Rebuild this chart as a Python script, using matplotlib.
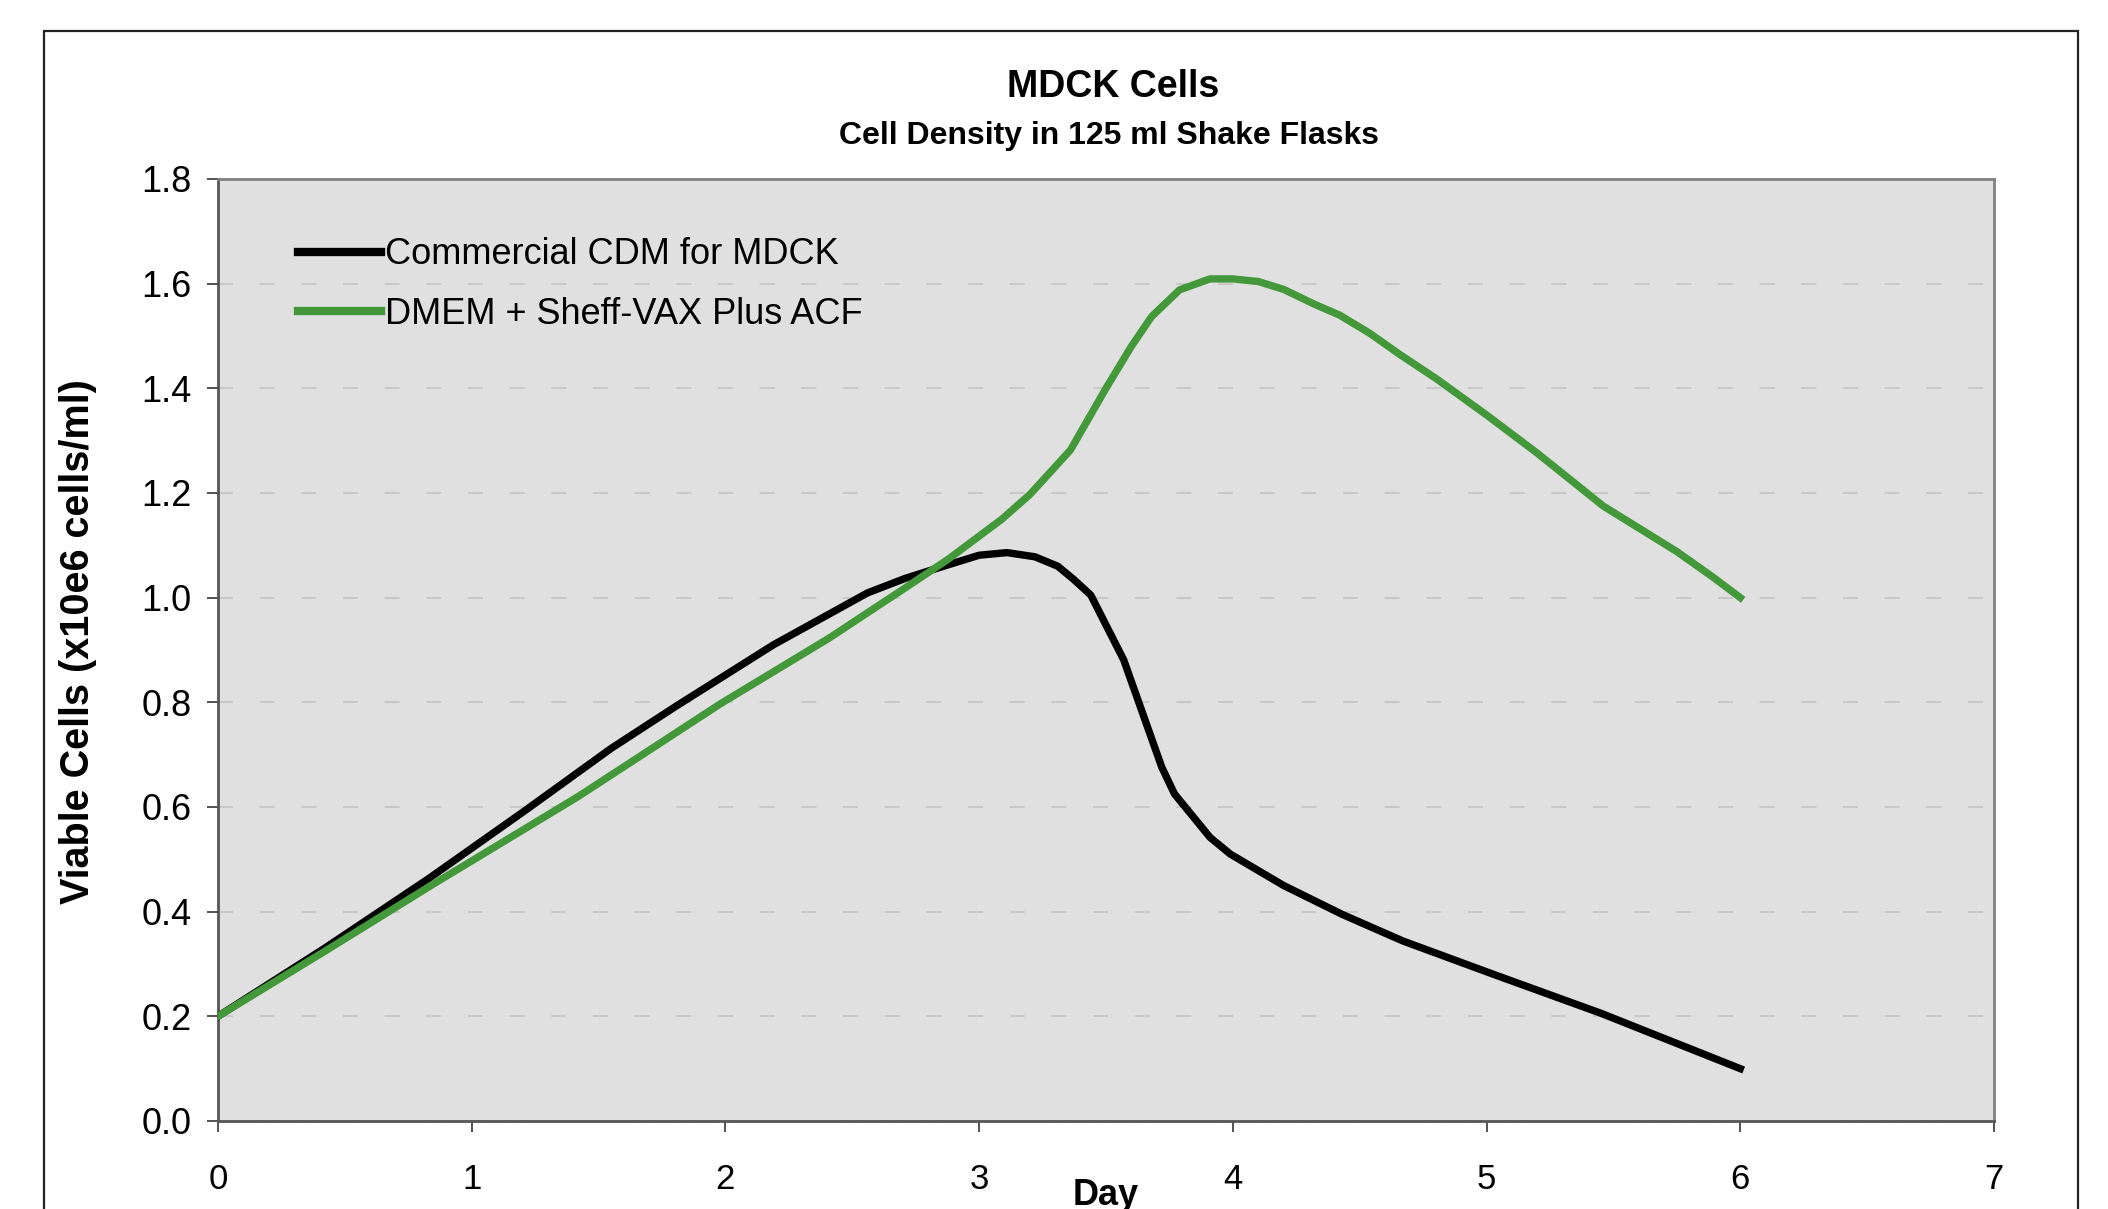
import matplotlib
matplotlib.use("Agg")
import matplotlib.pyplot as plt
from matplotlib.patches import Rectangle

plt.rcParams['font.family'] = ['Liberation Sans', 'DejaVu Sans']

# Commercial CDM for MDCK (black)
cdm_day = [0, 0.42, 0.83, 1.21, 1.55, 1.81, 2.19, 2.56, 2.71, 2.86, 3.0, 3.11,
           3.22, 3.31, 3.37, 3.44, 3.57, 3.72, 3.77, 3.91, 3.99, 4.2, 4.43,
           4.67, 5.04, 5.45, 6.0]
cdm_cells = [0.2, 0.33, 0.463, 0.593, 0.712, 0.794, 0.91, 1.009, 1.037, 1.06,
             1.081, 1.086, 1.078, 1.06, 1.036, 1.005, 0.881, 0.676, 0.625,
             0.542, 0.51, 0.45, 0.395, 0.344, 0.278, 0.206, 0.1]

# DMEM + Sheff-VAX Plus ACF (green)
vax_day = [0, 0.42, 0.85, 1.42, 1.98, 2.41, 2.71, 2.88, 3.09, 3.2, 3.36, 3.5,
           3.6, 3.68, 3.79, 3.91, 4.0, 4.1, 4.2, 4.32, 4.42, 4.54, 4.66, 4.8,
           4.9, 5.0, 5.2, 5.46, 5.75, 5.89, 6.0]
vax_cells = [0.2, 0.324, 0.453, 0.62, 0.797, 0.923, 1.019, 1.074, 1.15, 1.197,
             1.282, 1.40, 1.48, 1.537, 1.588, 1.609, 1.609, 1.604, 1.589,
             1.561, 1.54, 1.505, 1.464, 1.419, 1.384, 1.349, 1.276, 1.175,
             1.088, 1.04, 1.0]

labels = ["Commercial CDM for MDCK", "DMEM + Sheff-VAX Plus ACF"]
x_ticks = [0, 1, 2, 3, 4, 5, 6, 7]
y_ticks = [0.0, 0.2, 0.4, 0.6, 0.8, 1.0, 1.2, 1.4, 1.6, 1.8]

fig = plt.figure(figsize=(21.08, 12.09), dpi=100)
fig.patch.set_facecolor("white")

# chart area border (bottom runs off the image)
fig.patches.append(Rectangle((0.0209, -0.05), 0.9649, 1.0244, transform=fig.transFigure,
                             fill=False, edgecolor="#222222", linewidth=1.6))

ax = fig.add_axes([0.1034, 0.0728, 0.8425, 0.7792])
ax.set_facecolor("#E0E0E0")

ax.plot(cdm_day, cdm_cells, color="black", linewidth=5.3, label=labels[0],
        solid_joinstyle="round", zorder=3)
ax.plot(vax_day, vax_cells, color="#43993A", linewidth=5.3, label=labels[1],
        solid_joinstyle="round", zorder=3)

ax.set_xlim(0, 7)
ax.set_ylim(0, 1.8)
ax.set_xticks(x_ticks)
ax.set_yticks(y_ticks)
ax.set_yticklabels([f"{v:.1f}" for v in y_ticks])
ax.grid(axis="y", color="#C4C4C4", linewidth=1.2, linestyle=(0, (9, 16)))
ax.set_axisbelow(True)

for s in ax.spines.values():
    s.set_color("#808080")
    s.set_linewidth(2)
ax.spines["left"].set_color("#555555")
ax.spines["bottom"].set_color("#555555")

ax.tick_params(axis="y", direction="out", length=8, width=1.2, color="#333333",
               labelsize=26, pad=11)
ax.tick_params(axis="x", direction="out", length=8, width=1.2, color="#333333",
               labelsize=25, pad=22)

ax.set_ylabel("Viable Cells (x10e6 cells/ml)", fontsize=28.5, fontweight="bold")
ax.yaxis.set_label_coords(-0.068, 0.5085)
ax.set_xlabel("Day", fontsize=26, fontweight="bold", va="top")
ax.xaxis.set_label_coords(0.5, -0.06)

fig.text(0.528, 0.9198, "MDCK Cells", ha="center", va="baseline",
         fontsize=27, fontweight="bold")
fig.text(0.526, 0.8809, "Cell Density in 125 ml Shake Flasks", ha="center",
         va="baseline", fontsize=23, fontweight="bold")

leg = ax.legend(loc="upper left", bbox_to_anchor=(0.045, 0.938), frameon=False,
                fontsize=26, handlelength=2.3, handletextpad=0.1,
                labelspacing=0.68, borderpad=0, borderaxespad=0)
for line in leg.get_lines():
    line.set_linewidth(6)

fig.savefig("out.png", dpi=100)
